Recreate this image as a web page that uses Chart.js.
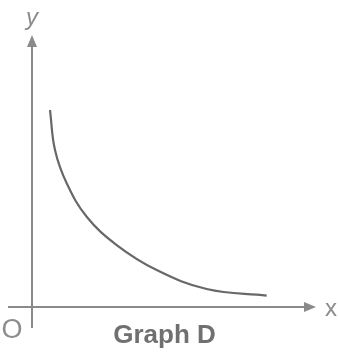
<!DOCTYPE html>
<html>
<head>
<meta charset="utf-8">
<script src="https://cdn.jsdelivr.net/npm/chart.js@4/dist/chart.umd.min.js"></script>
<style>
  html, body { margin: 0; padding: 0; background: #ffffff; }
  #wrap { width: 338px; height: 353px; }
</style>
</head>
<body>
<div id="wrap"><canvas id="c" width="338" height="353"></canvas></div>
<script>
// Curve points (arbitrary units, origin at O)
const curveX = [0.634, 0.810, 1.222, 1.926, 2.982, 4.391, 6.151, 8.264];
const curveY = [7.243, 5.772, 4.548, 3.320, 2.279, 1.360, 0.662, 0.415];
const axisTitles = { x: 'x', y: 'y', origin: 'O' };
const chartTitle = 'Graph D';

const points = curveX.map((x, i) => ({ x: x, y: curveY[i] }));

const axesPlugin = {
  id: 'axesPlugin',
  afterDatasetsDraw(chart) {
    const ctx = chart.ctx;
    const xs = chart.scales.x, ys = chart.scales.y;
    const ox = xs.getPixelForValue(0);
    const oy = ys.getPixelForValue(0);
    const xEnd = xs.getPixelForValue(xs.max);
    const yEnd = ys.getPixelForValue(ys.max);
    const col = '#8a8a8a';
    ctx.save();
    ctx.strokeStyle = col;
    ctx.fillStyle = col;
    ctx.lineWidth = 2;
    // x axis (extends a little left of origin)
    ctx.beginPath();
    ctx.moveTo(ox - 24, oy);
    ctx.lineTo(xEnd - 8, oy);
    ctx.stroke();
    // y axis (extends a little below origin)
    ctx.beginPath();
    ctx.moveTo(ox, oy + 21);
    ctx.lineTo(ox, yEnd + 8);
    ctx.stroke();
    // arrowheads
    ctx.beginPath();
    ctx.moveTo(xEnd, oy);
    ctx.lineTo(xEnd - 12, oy - 5);
    ctx.lineTo(xEnd - 12, oy + 5);
    ctx.closePath();
    ctx.fill();
    ctx.beginPath();
    ctx.moveTo(ox, yEnd);
    ctx.lineTo(ox - 5, yEnd + 12);
    ctx.lineTo(ox + 5, yEnd + 12);
    ctx.closePath();
    ctx.fill();
    // axis labels
    ctx.fillStyle = '#8c8c8c';
    ctx.textBaseline = 'alphabetic';
    ctx.textAlign = 'center';
    ctx.font = 'italic 24px "Liberation Sans", Arial, sans-serif';
    ctx.fillText(axisTitles.y, ox, yEnd - 10);
    ctx.textAlign = 'left';
    ctx.font = '24px "Liberation Sans", Arial, sans-serif';
    ctx.fillText(axisTitles.x, xEnd + 9, oy + 9);
    ctx.font = '27px "Liberation Sans", Arial, sans-serif';
    ctx.textAlign = 'center';
    ctx.fillText(axisTitles.origin, ox - 20, oy + 31);
    // caption
    ctx.fillStyle = '#707070';
    ctx.font = 'bold 26px "Liberation Sans", Arial, sans-serif';
    ctx.fillText(chartTitle, (ox + xEnd) / 2 - 9.5, oy + 36);
    ctx.restore();
  }
};

new Chart(document.getElementById('c'), {
  type: 'scatter',
  data: {
    datasets: [{
      data: points,
      showLine: true,
      borderColor: '#686868',
      borderWidth: 2.2,
      pointRadius: 0,
      fill: false,
      tension: 0.4
    }]
  },
  options: {
    responsive: false,
    animation: false,
    events: [],
    layout: { padding: { left: 32, right: 22, top: 35, bottom: 46 } },
    plugins: { legend: { display: false }, tooltip: { enabled: false }, title: { display: false } },
    scales: {
      x: { type: 'linear', min: 0, max: 10, display: false },
      y: { type: 'linear', min: 0, max: 10, display: false }
    }
  },
  plugins: [axesPlugin]
});
</script>
</body>
</html>
